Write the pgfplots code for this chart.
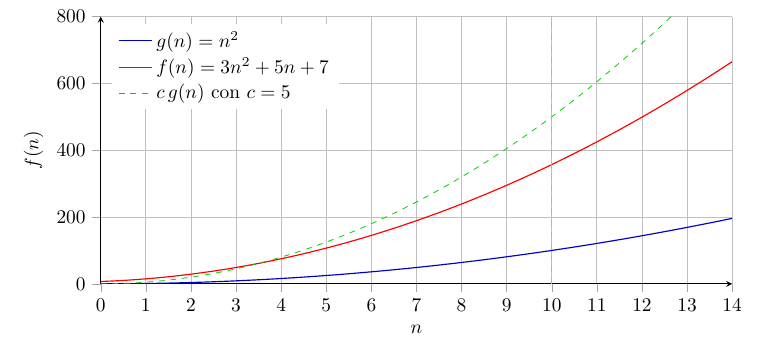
\documentclass[border={9pt 2.5pt 5pt 2pt}]{standalone}
\usepackage{pgfplots}
\pgfplotsset{compat=1.18}
\begin{document}
\begin{tikzpicture}
\begin{axis}[
  scale only axis, width=326pt, height=138pt,
  axis lines=left,
  xmin=0, xmax=14, ymin=0, ymax=800,
  xtick={0,1,...,14}, ytick={0,200,400,600,800},
  grid=major, grid style={gray!50},
  tick style={gray!70}, tick align=outside,
  xlabel={$n$}, ylabel={$f(n)$},
  legend style={at={(0.018,0.975)}, anchor=north west, draw=none, fill=white, font=\normalsize},
  legend cell align=left,
  clip=true,
]
\addplot[blue!80!black, semithick, smooth] coordinates {
(0,0) (0.5,0.25) (1,1) (1.5,2.25) (2,4) (2.5,6.25) (3,9) (3.5,12.25) (4,16) (4.5,20.25) (5,25) (5.5,30.25) (6,36) (6.5,42.25) (7,49) (7.5,56.25) (8,64) (8.5,72.25) (9,81) (9.5,90.25) (10,100) (10.5,110.25) (11,121) (11.5,132.25) (12,144) (12.5,156.25) (13,169) (13.5,182.25) (14,196)};
\addlegendentry{$g(n)=n^2$}
\addplot[red, semithick, smooth] coordinates {
(0,7) (0.5,10.25) (1,15) (1.5,21.25) (2,29) (2.5,38.25) (3,49) (3.5,61.25) (4,75) (4.5,90.25) (5,107) (5.5,125.25) (6,145) (6.5,166.25) (7,189) (7.5,213.25) (8,239) (8.5,266.25) (9,295) (9.5,325.25) (10,357) (10.5,390.25) (11,425) (11.5,461.25) (12,499) (12.5,538.25) (13,579) (13.5,621.25) (14,665)};
\addlegendentry{$f(n)=3n^2+5n+7$}
\addplot[green!80!black, dashed, smooth] coordinates {
(0,0) (0.5,1.25) (1,5) (1.5,11.25) (2,20) (2.5,31.25) (3,45) (3.5,61.25) (4,80) (4.5,101.25) (5,125) (5.5,151.25) (6,180) (6.5,211.25) (7,245) (7.5,281.25) (8,320) (8.5,361.25) (9,405) (9.5,451.25) (10,500) (10.5,551.25) (11,605) (11.5,661.25) (12,720) (12.5,781.25) (13,845)};
\addlegendentry{$c\,g(n)$ con $c=5$}
\addplot[gray!60, dashed, forget plot] coordinates {(10,0) (10,800)};
\end{axis}
\end{tikzpicture}
\end{document}
